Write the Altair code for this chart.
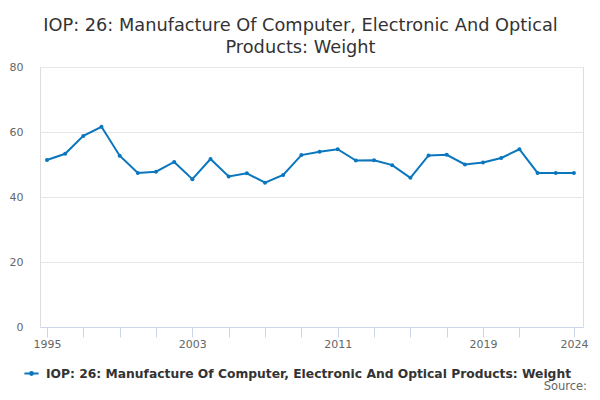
import altair as alt
import pandas as pd

years = list(range(1995, 2025))
values = [51.4, 53.3, 58.8, 61.6, 52.7, 47.4, 47.8, 50.8, 45.5, 51.7,
          46.3, 47.3, 44.4, 46.8, 52.9, 53.9, 54.7, 51.2, 51.3, 49.8,
          45.9, 52.8, 53.0, 50.0, 50.6, 52.0, 54.7, 47.4, 47.4, 47.4]
series_name = "IOP: 26: Manufacture Of Computer, Electronic And Optical Products: Weight"
title_lines = ["IOP: 26: Manufacture Of Computer, Electronic And Optical", "Products: Weight"]
tick_years = [1995, 1997, 1999, 2001, 2003, 2005, 2007, 2009, 2011, 2013, 2015, 2017, 2019, 2021, 2024]
label_years = [1995, 2003, 2011, 2019, 2024]
y_ticks = [0, 20, 40, 60, 80]

df = pd.DataFrame({"year": years, "value": values, "series": [series_name] * len(years)})

FONT = "DejaVu Sans"
BLUE = "#0a76be"

label_expr = "indexof([" + ",".join(str(y) for y in label_years) + "], datum.value) >= 0 ? format(datum.value, 'd') : ''"

x = alt.X("year:Q",
          scale=alt.Scale(domain=[1994.615, 2024.5], nice=False, zero=False),
          axis=alt.Axis(values=tick_years, labelExpr=label_expr, title=None, grid=False,
                        domainColor="#ccd6eb", tickColor="#ccd6eb", tickSize=10,
                        labelFont=FONT, labelFontSize=11, labelColor="#666666",
                        labelPadding=1, labelFlush=False, labelOverlap=False))
y = alt.Y("value:Q",
          scale=alt.Scale(domain=[0, 80], nice=False),
          axis=alt.Axis(values=y_ticks, title=None, domain=False, ticks=False,
                        gridColor="#e6e6e6", labelFont=FONT, labelFontSize=11,
                        labelColor="#666666", labelPadding=17))

legend_symbol = "M-1,0H1M-0.2,0A0.2,0.2,0,1,0,0.2,0A0.2,0.2,0,1,0,-0.2,0Z"

color = alt.Color("series:N",
                  scale=alt.Scale(range=[BLUE]),
                  legend=alt.Legend(title=None, orient="none", legendX=-17, legendY=298,
                                    symbolType=legend_symbol, symbolSize=200, symbolStrokeWidth=2,
                                    labelFont=FONT, labelFontSize=12.3, labelFontWeight="bold",
                                    labelColor="#333333", labelLimit=700, labelOffset=6))

line = alt.Chart(df).mark_line(strokeWidth=2).encode(x=x, y=y, color=color)
pts = alt.Chart(df).mark_circle(size=16, opacity=1).encode(x=x, y=y, color=alt.Color("series:N", scale=alt.Scale(range=[BLUE]), legend=None))

source = alt.Chart(pd.DataFrame({"t": ["Source:"]})).mark_text(
    font=FONT, fontSize=11.5, color="#666666", align="right", baseline="alphabetic"
).encode(text="t:N", x=alt.value(547), y=alt.value(323))

chart = alt.layer(line, pts, source).properties(
    width=543, height=260,
    padding={"left": 32, "top": 59, "right": 9, "bottom": 65},
    autosize=alt.AutoSizeParams(type="none"),
    title=alt.TitleParams(text=title_lines, font=FONT, fontSize=17.75, fontWeight="normal",
                          color="#333333", anchor="middle", dx=-11, offset=4, lineHeight=22)
).configure_view(stroke=None).configure(background="white")

chart.save("out.html", embed_options={"renderer": "svg", "actions": False})
